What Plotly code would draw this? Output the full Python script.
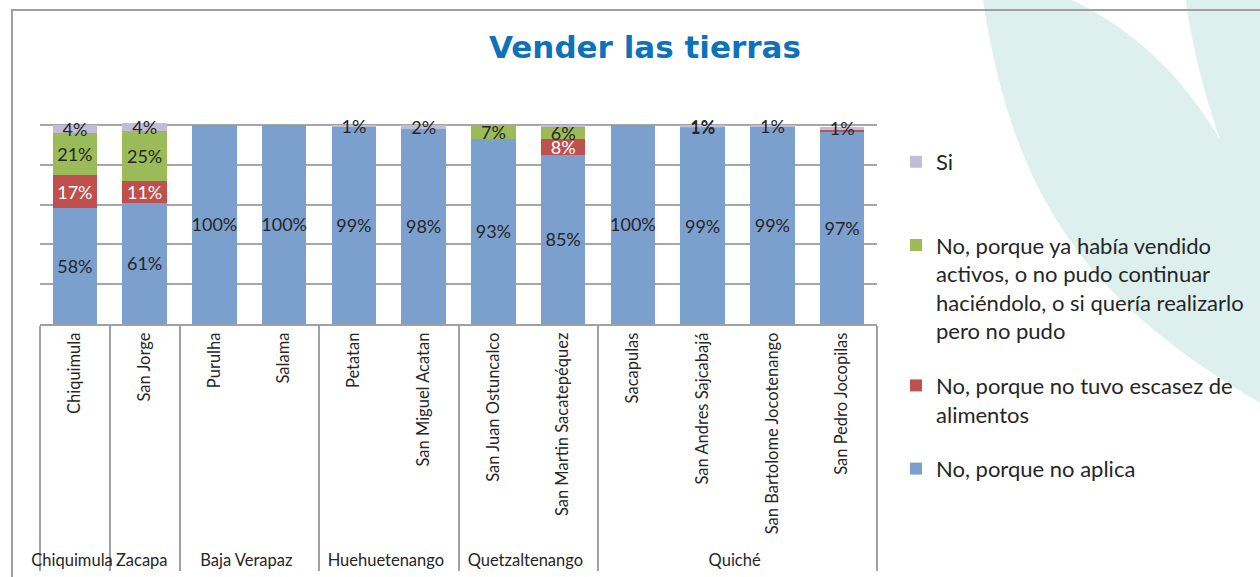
import plotly.graph_objects as go

W, H = 1260, 577

# ---------------- data ----------------
regiones = ["Chiquimula", "Zacapa", "Baja Verapaz", "Baja Verapaz",
            "Huehuetenango", "Huehuetenango", "Quetzaltenango", "Quetzaltenango",
            "Quiché", "Quiché", "Quiché", "Quiché"]
municipios = ["Chiquimula", "San Jorge", "Purulha", "Salama", "Petatan",
              "San Miguel Acatan", "San Juan Ostuncalco", "San Martin Sacatepéquez",
              "Sacapulas", "San Andres Sajcabajá", "San Bartolome Jocotenango",
              "San Pedro Jocopilas"]
no_aplica = [58, 61, 100, 100, 99, 98, 93, 85, 100, 98.6, 99, 96.6]
no_escasez = [17, 11, 0, 0, 0, 0, 0, 8, 0, 0, 0, 1]
no_vendido = [21, 25, 0, 0, 0, 0, 7, 6, 0, 0.7, 0, 0]
si = [4, 4, 0, 0, 1, 2, 0, 1, 0, 0.7, 1, 1.4]
# labels not shown in the original
ocultas = {1: [11], 3: [7]}

nombres = ["No, porque no aplica",
           "No, porque no tuvo escasez de<br>alimentos",
           "No, porque ya había vendido<br>activos, o no pudo continuar<br>haciéndolo, o si quería realizarlo<br>pero no pudo",
           "Si<br> "]
rango_leyenda = [4, 3, 2, 1]
colores = ["#7ba0cd", "#c0504d", "#9bbb59", "#c3bcd8"]
color_texto = ["#262626", "#ffffff", "#262626", "#262626"]


def etiquetas(vals, oc=()):
    return [("" if (v == 0 or i in oc) else f"{v:.0f}%") for i, v in enumerate(vals)]


def px(x):
    return x / W


def py(y):
    return 1 - y / H


fig = go.Figure()
valores = [no_aplica, no_escasez, no_vendido, si]
for k, vals in enumerate(valores):
    fig.add_trace(go.Bar(
        x=[regiones, municipios], y=vals, name=nombres[k],
        marker=dict(color=colores[k], line=dict(width=0)),
        text=etiquetas(vals, ocultas.get(k, ())),
        textposition="inside", insidetextanchor="middle", textangle=0,
        constraintext="none",
        textfont=dict(family="Lato", size=18, color=color_texto[k]),
        legendgroup=f"g{k}", legendrank=rango_leyenda[k], hoverinfo="skip",
    ))


def P(x, y):
    return f"{px(x):.5f},{py(y):.5f}"


teal_path = ("M " + P(983, 0) + " C " + P(1013, 200) + " " + P(1090, 303) + " " + P(1260, 403)
             + " L " + P(1260, 0) + " Z")
white_path = ("M " + P(1072, 0) + " Q " + P(1165, 45) + " " + P(1220, 140)
              + " Q " + P(1193, 60) + " " + P(1186, 0) + " Z")

shapes = [
    dict(type="path", path=teal_path, xref="paper", yref="paper", layer="below",
         fillcolor="#ddf0ed", line=dict(width=0)),
    dict(type="path", path=white_path, xref="paper", yref="paper", layer="below",
         fillcolor="#ffffff", line=dict(width=0)),
    dict(type="line", xref="paper", yref="paper", x0=px(12), x1=px(1262), y0=py(10), y1=py(10),
         line=dict(color="#a0a0a0", width=2)),
    dict(type="line", xref="paper", yref="paper", x0=px(12), x1=px(12), y0=py(9), y1=py(580),
         line=dict(color="#a0a0a0", width=2)),
]

fig.update_layout(
    width=W, height=H,
    margin=dict(l=0, r=0, t=0, b=0),
    template="none",
    paper_bgcolor="#ffffff", plot_bgcolor="rgba(0,0,0,0)",
    barmode="stack", bargap=0.36,
    font=dict(family="Lato", color="#262626"),
    shapes=shapes,
    showlegend=True,
    legend=dict(x=px(896), y=py(141), xanchor="left", yanchor="top",
                traceorder="grouped", valign="top", tracegroupgap=23,
                font=dict(family="Lato", size=22, color="#262626"),
                bgcolor="rgba(0,0,0,0)", itemclick=False),
    xaxis=dict(domain=[px(40), px(877)], type="multicategory",
               tickangle=-90, ticks="", showline=True, linecolor="#a0a0a0", linewidth=2,
               showdividers=True, dividercolor="#a0a0a0", dividerwidth=2,
               tickfont=dict(family="Lato", size=16.5, color="#262626"),
               showgrid=False),
    yaxis=dict(domain=[py(324), py(85)], range=[0, 120], dtick=20, showticklabels=False,
               showgrid=True, gridcolor="#a6a6a6", gridwidth=2, zeroline=False,
               showline=False, ticks=""),
    annotations=[dict(text="<b>Vender las tierras</b>", xref="paper", yref="paper",
                      x=px(645), y=py(47), xanchor="center", yanchor="middle",
                      showarrow=False,
                      font=dict(family="DejaVu Sans", size=31, color="#0e72bb"))],
)

fig.write_html("out.html", config={"displayModeBar": False},
               post_script="document.body.style.margin='0px';")
